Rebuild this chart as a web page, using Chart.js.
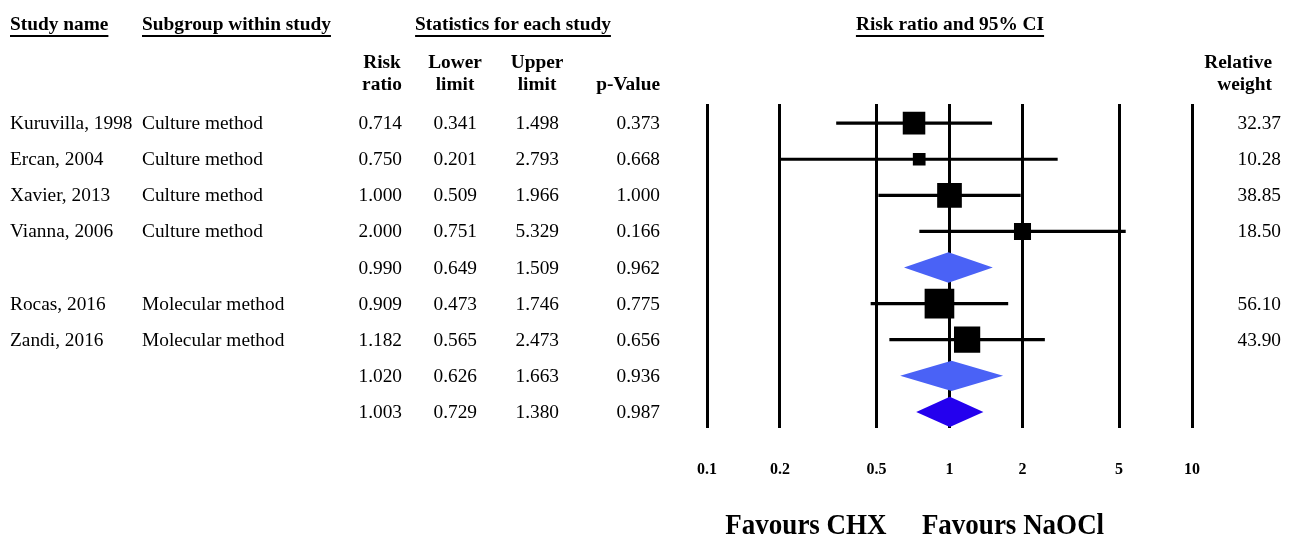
<!DOCTYPE html>
<html>
<head>
<meta charset="utf-8">
<script src="https://cdn.jsdelivr.net/npm/chart.js@4/dist/chart.umd.min.js"></script>
<style>
  html, body { margin: 0; padding: 0; background: #fff; }
  #wrap { position: relative; width: 1292px; height: 557px; overflow: hidden; background: #fff; }
  #c { position: absolute; left: 0; top: 0; }
  .t { position: absolute; white-space: nowrap; line-height: 1; color: #000;
       font-family: "Liberation Serif", "Times New Roman", serif; font-size: 18px; }
  .b { font-weight: bold; }
  .u { text-decoration: underline; text-decoration-thickness: 2px; text-underline-offset: 5px; }
</style>
</head>
<body>
<div id="wrap">
  <canvas id="c" width="1292" height="557"></canvas>
</div>
<script>
// ---------- data ----------
const studyNames  = ['Kuruvilla, 1998', 'Ercan, 2004', 'Xavier, 2013', 'Vianna, 2006', '', 'Rocas, 2016', 'Zandi, 2016', '', ''];
const subgroups   = ['Culture method', 'Culture method', 'Culture method', 'Culture method', '', 'Molecular method', 'Molecular method', '', ''];
const rowKind     = ['study', 'study', 'study', 'study', 'subtotal', 'study', 'study', 'subtotal', 'total'];
const riskRatio   = [0.714, 0.750, 1.000, 2.000, 0.990, 0.909, 1.182, 1.020, 1.003];
const lowerLimit  = [0.341, 0.201, 0.509, 0.751, 0.649, 0.473, 0.565, 0.626, 0.729];
const upperLimit  = [1.498, 2.793, 1.966, 5.329, 1.509, 1.746, 2.473, 1.663, 1.380];
const pValues     = [0.373, 0.668, 1.000, 0.166, 0.962, 0.775, 0.656, 0.936, 0.987];
const relWeight   = [32.37, 10.28, 38.85, 18.50, null, 56.10, 43.90, null, null];
const tickValues  = [0.1, 0.2, 0.5, 1, 2, 5, 10];
const tickLabels  = ['0.1', '0.2', '0.5', '1', '2', '5', '10'];

// ---------- datasets built from data ----------
const rows = riskRatio.map((v, i) => i);
const studyRows = rows.filter(i => rowKind[i] === 'study');
const summaryRows = rows.filter(i => rowKind[i] !== 'study');

const ciData = [];
studyRows.forEach(i => {
  ciData.push({x: lowerLimit[i], y: i}, {x: upperLimit[i], y: i}, {x: null, y: null});
});

const squareData = studyRows.map(i => ({x: riskRatio[i], y: i, w: relWeight[i]}));

const DIAMOND_H = 0.42;
const diamondSets = summaryRows.map(i => ({
  type: 'line',
  data: [
    {x: lowerLimit[i], y: i},
    {x: riskRatio[i], y: i - DIAMOND_H},
    {x: upperLimit[i], y: i},
    {x: riskRatio[i], y: i + DIAMOND_H},
    {x: lowerLimit[i], y: i}
  ],
  borderWidth: 0,
  borderColor: 'rgba(0,0,0,0)',
  backgroundColor: rowKind[i] === 'total' ? '#2400EE' : '#4A62F6',
  fill: 'shape',
  pointRadius: 0,
  tension: 0,
  order: 2
}));

const chart = new Chart(document.getElementById('c'), {
  type: 'scatter',
  data: {
    datasets: [
      {
        type: 'line',
        data: ciData,
        borderColor: '#000',
        borderWidth: 3.2,
        pointRadius: 0,
        spanGaps: false,
        fill: false,
        order: 3
      },
      ...diamondSets,
      {
        type: 'scatter',
        data: squareData,
        pointStyle: 'rect',
        backgroundColor: '#000',
        borderWidth: 0,
        pointRadius: ctx => ctx.raw ? 2.8 * Math.sqrt(ctx.raw.w) : 0,
        order: 1
      }
    ]
  },
  options: {
    responsive: false,
    animation: false,
    devicePixelRatio: 1,
    events: [],
    layout: { padding: { left: 707, right: 100, top: 104, bottom: 46 } },
    plugins: { legend: { display: false }, tooltip: { enabled: false } },
    scales: {
      x: {
        type: 'logarithmic',
        min: 0.1,
        max: 10,
        position: 'bottom',
        afterBuildTicks: s => { s.ticks = tickValues.map(v => ({value: v})); },
        grid: { color: '#000', lineWidth: 3, drawTicks: false },
        border: { display: false },
        ticks: {
          autoSkip: false,
          maxRotation: 0,
          padding: 32,
          color: '#000',
          font: { family: '"Liberation Serif", "Times New Roman", serif', size: 16, weight: 'bold' },
          callback: (v) => { const k = tickValues.indexOf(v); return k >= 0 ? tickLabels[k] : ''; }
        }
      },
      y: {
        type: 'linear',
        min: -0.53,
        max: 8.44,
        reverse: true,
        display: false
      }
    }
  }
});

// ---------- text (real HTML text) ----------
const wrap = document.getElementById('wrap');
function place(text, x, y, opt = {}) {
  const el = document.createElement('div');
  el.className = 't' + (opt.bold ? ' b' : '') + (opt.u ? ' u' : '');
  el.textContent = text;
  if (opt.size) el.style.fontSize = opt.size + 'px';
  el.style.left = x + 'px';
  el.style.top = y + 'px';
  const tx = opt.align === 'right' ? '-100%' : opt.align === 'center' ? '-50%' : '0';
  const sx = opt.sx || 1.075;
  el.style.transformOrigin = '0 0';
  el.style.transform = `scaleX(${sx}) translate(${tx}, -50%)`;
  wrap.appendChild(el);
}

// headers
place('Study name', 10, 24, {bold: true, u: true});
place('Subgroup within study', 142, 24, {bold: true, u: true});
place('Statistics for each study', 513, 24, {bold: true, u: true, align: 'center'});
place('Risk ratio and 95% CI', 950, 24, {bold: true, u: true, align: 'center'});

place('Risk', 382, 62, {bold: true, align: 'center'});
place('ratio', 382, 84, {bold: true, align: 'center'});
place('Lower', 455, 62, {bold: true, align: 'center'});
place('limit', 455, 84, {bold: true, align: 'center'});
place('Upper', 537, 62, {bold: true, align: 'center'});
place('limit', 537, 84, {bold: true, align: 'center'});
place('p-Value', 660, 84, {bold: true, align: 'right'});
place('Relative', 1272, 62, {bold: true, align: 'right'});
place('weight', 1272, 84, {bold: true, align: 'right'});

const ys = chart.scales.y;
rows.forEach(i => {
  const y = Math.round(ys.getPixelForValue(i));
  if (studyNames[i]) place(studyNames[i], 10, y);
  if (subgroups[i]) place(subgroups[i], 142, y);
  place(riskRatio[i].toFixed(3), 402, y, {align: 'right'});
  place(lowerLimit[i].toFixed(3), 477, y, {align: 'right'});
  place(upperLimit[i].toFixed(3), 559, y, {align: 'right'});
  place(pValues[i].toFixed(3), 660, y, {align: 'right'});
  if (relWeight[i] != null) place(relWeight[i].toFixed(2), 1281, y, {align: 'right'});
});

place('Favours CHX', 806, 524, {bold: true, size: 30, sx: 0.9, align: 'center'});
place('Favours NaOCl', 1013, 524, {bold: true, size: 30, sx: 0.9, align: 'center'});
</script>
</body>
</html>
